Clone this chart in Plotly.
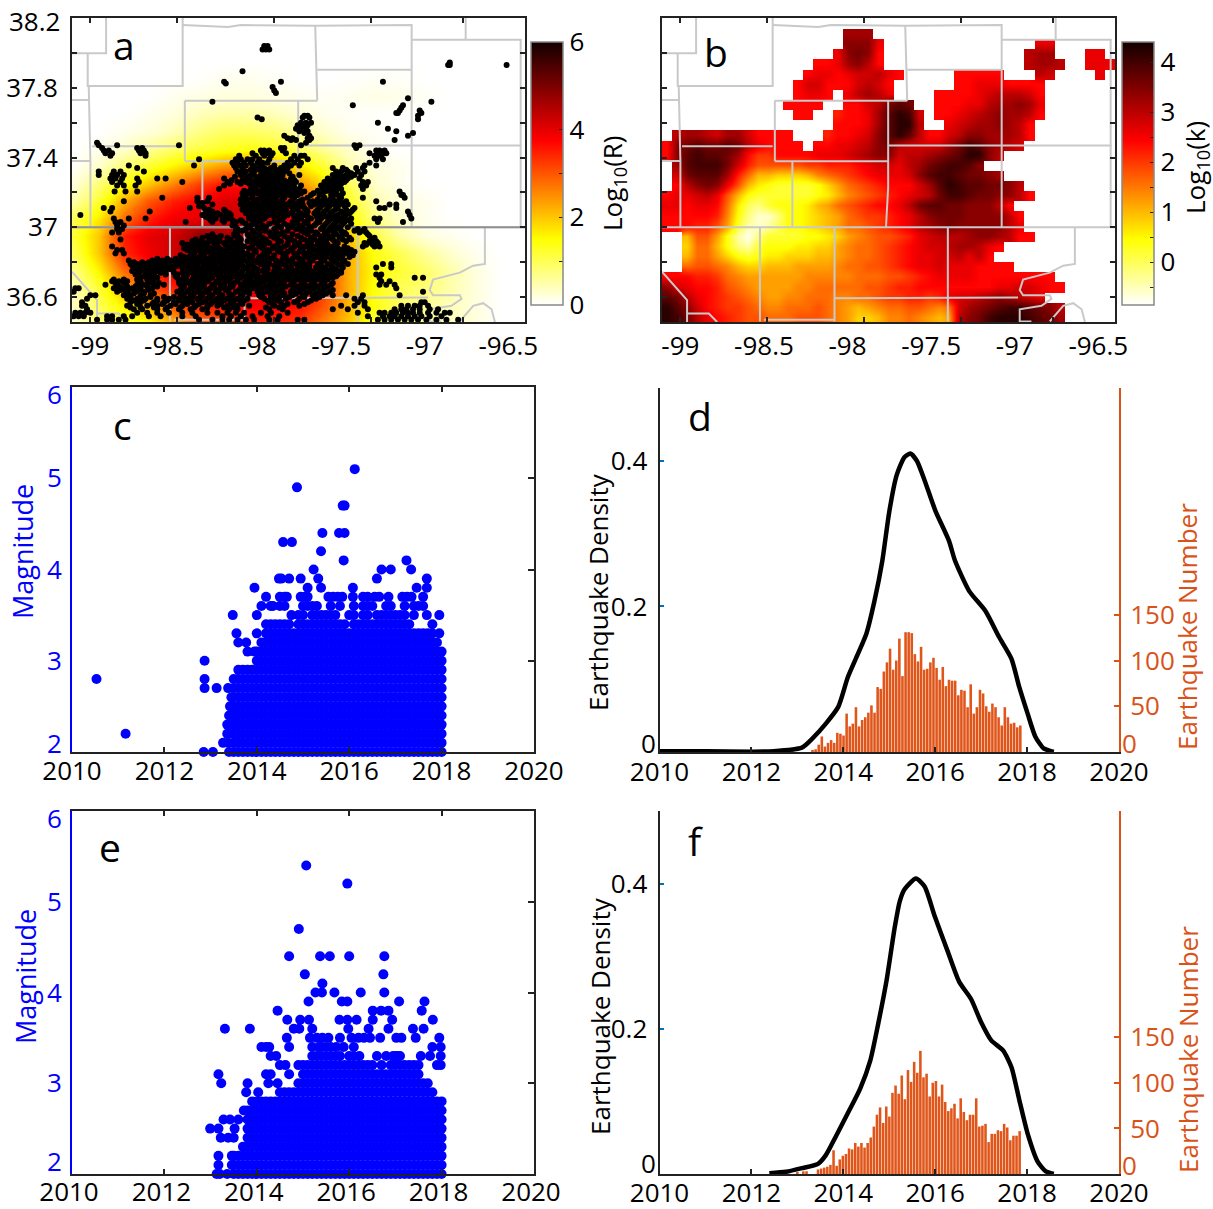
import plotly.graph_objects as go

W, H = 1213, 1209
FONT = "Open Sans"
BLUE = "#0000FF"
ORANGE = "#D95319"
TICKBLUE = "#0072BD"

# ---- panel a: log10(R) field -------------------------------------------------
lon_a = [-99.1,-98.95,-98.8,-98.65,-98.5,-98.35,-98.2,-98.05,-97.9,-97.75,-97.6,-97.45,-97.3,-97.15,-97.0,-96.85,-96.7,-96.55,-96.4]
lat_a = [36.45,36.55,36.65,36.75,36.85,36.95,37.05,37.15,37.25,37.35,37.45,37.55,37.65,37.75,37.85,37.95,38.2]
z_a = [
 [.3,.8,1.2,1.5,2.2,2.8,3,3.4,3.4,3.3,2.6,2,1.2,.8,.6,.4,.2,0,0],
 [.4,1,1.6,2.2,3,3.4,3.6,3.8,3.8,3.6,3,2.1,1.4,.9,.6,.4,.2,0,0],
 [.4,1.2,2.2,3,3.5,3.8,4,4,4.1,3.9,3.2,2.2,1.4,1,.8,.5,.2,0,0],
 [.7,1.6,2.8,3.5,3.9,4.2,4.2,4.2,4.2,4,3.2,2.2,1.5,1.2,.9,.5,.2,0,0],
 [1,2,3.4,3.9,4.2,4.7,4.5,4.3,4.2,4,3.2,2.2,1.4,1,.6,.3,.1,0,0],
 [1.2,2,3.5,4,4.2,4.8,4.6,4.3,4.2,3.9,3,2,1.1,.5,.2,.1,0,0,0],
 [1,1.7,2.8,3.5,3.9,4,4.2,4.2,4.2,3.6,2.6,1.6,.7,.3,.1,0,0,0,0],
 [.5,1.2,2.2,3,3.5,3.8,4.1,4.1,3.9,3.2,2.3,1.3,.5,.2,.1,0,0,0,0],
 [.2,.8,1.4,2,2.6,3.2,3.6,3.6,3.2,2.5,1.8,1,.3,.1,0,0,0,0,0],
 [.05,.3,.8,1.2,1.6,2,2.4,2.5,2.2,1.7,1.2,.5,.2,.1,0,0,0,0,0],
 [0,.1,.3,.6,.9,1.1,1.3,1.4,1.3,1,.6,.3,.1,0,0,0,0,0,0],
 [0,0,.1,.2,.4,.7,.9,.9,.8,.5,.3,.1,.05,0,0,0,0,0,0],
 [0,0,0,.1,.2,.4,.5,.5,.4,.25,.12,.05,.02,.02,0,0,0,0,0],
 [0,0,0,0,.1,.15,.2,.2,.15,.1,.05,.1,.15,.12,.05,0,0,0,0],
 [0,0,0,0,0,.02,.08,.1,.05,0,0,.02,.05,.05,0,0,0,0,0],
 [0]*19,
 [0]*19,
]

# earthquakes of panel a, one row per latitude
quakes_a = [
 (38.04,[-97.96,-97.94]),(38.02,[-97.97,-97.95,-97.93]),
 (37.945,[-96.85]),(37.93,[-96.86,-96.85,-96.51]),(37.895,[-98.09]),
 (37.835,[-98.2,-97.86,-97.25]),(37.825,[-98.19]),(37.805,[-97.91]),(37.785,[-97.9]),(37.77,[-97.89]),
 (37.74,[-97.1]),(37.72,[-98.27,-96.96]),(37.7,[-97.43,-97.13]),(37.685,[-97.14]),(37.67,[-97.15,-97.03]),(37.655,[-97.17,-97.16,-97.02]),
 (37.64,[-97.04,-97.72,-97.7]),(37.63,[-98.0,-97.73,-97.69]),(37.62,[-97.975,-97.04]),
 (37.6,[-97.28,-97.74,-97.71,-97.68]),(37.585,[-97.76,-97.73,-97.7]),(37.565,[-97.77,-97.74,-97.71,-97.22]),(37.55,[-97.75,-97.7,-97.17]),
 (37.54,[-97.72,-97.07]),(37.525,[-97.1,-97.84,-97.69]),(37.51,[-97.82,-97.79,-97.7,-97.68]),(37.5,[-97.8,-97.77,-97.18,-97.69]),
 (37.485,[-97.71,-98.96]),(37.47,[-98.95,-98.84,-98.47,-97.74,-97.42,-97.39]),
 (37.455,[-98.93,-98.72,-98.69,-97.86,-97.84,-97.41]),
 (37.44,[-98.92,-98.89,-98.71,-98.68,-97.98,-97.96,-97.93,-97.85,-97.29,-97.27,-97.24]),
 (37.425,[-98.91,-98.87,-98.7,-98.67,-98.03,-97.97,-97.94,-97.91,-97.83,-97.33,-97.28,-97.25,-97.23]),
 (37.41,[-98.88,-98.67,-98.11,-98.01,-97.96,-97.92,-97.78,-97.74,-97.72,-97.3,-97.27,-97.26]),
 (37.39,[-98.35,-98.13,-98.1,-98.06,-98.03,-97.99,-97.93,-97.8,-97.76,-97.7,-97.29,-97.25]),
 (37.37,[-98.15,-98.12,-98.08,-98.04,-98,-97.97,-97.94,-97.82,-97.78,-97.74,-97.33]),
 (37.355,[-98.77,-98.38,-98.14,-98.1,-98.07,-98.03,-97.98,-97.9,-97.84,-97.8,-97.75,-97.36,-97.29]),
 (37.34,[-98.72,-98.13,-98.09,-98.01,-97.96,-97.92,-97.86,-97.82,-97.55,-97.49,-97.41,-97.37]),
 (37.32,[-98.95,-98.86,-98.82,-98.68,-98.12,-98.07,-98.02,-97.97,-97.93,-97.88,-97.84,-97.53,-97.5,-97.46,-97.4,-97.36]),
 (37.3,[-98.95,-98.87,-98.84,-98.8,-98.1,-98.04,-97.98,-97.94,-97.89,-97.85,-97.75,-97.55,-97.51,-97.47,-97.42,-97.38]),
 (37.28,[-98.88,-98.85,-98.81,-98.72,-98.55,-98.6,-98.2,-98.05,-98,-97.96,-97.9,-97.86,-97.8,-97.58,-97.54,-97.5,-97.46,-97.39]),
 (37.26,[-98.87,-98.82,-98.71,-98.45,-98.18,-98.12,-98.07,-98.02,-97.97,-97.92,-97.87,-97.82,-97.77,-97.6,-97.56,-97.52,-97.48,-97.37,-97.34]),
 (37.24,[-98.84,-98.8,-98.73,-98.2,-98.02,-97.98,-97.94,-97.89,-97.84,-97.79,-97.74,-97.62,-97.57,-97.53,-97.38,-97.35]),
 (37.22,[-98.23,-98.04,-98.01,-97.95,-97.9,-97.85,-97.8,-97.75,-97.61,-97.58,-97.54,-97.5,-97.37]),
 (37.205,[-98.855,-98.79,-98.72,-98.05,-97.99,-97.93,-97.88,-97.82,-97.77,-97.72,-97.6,-97.56,-97.15]),
 (37.185,[-98.07,-98.03,-97.97,-97.92,-97.87,-97.81,-97.76,-97.68,-97.63,-97.56,-97.52,-97.14,-97.13]),
 (37.17,[-98.57,-98.36,-98.29,-98.09,-98.03,-97.98,-97.94,-97.89,-97.84,-97.78,-97.7,-97.6,-97.55,-97.5,-97.12,-97.37]),
 (37.15,[-98.8,-98.36,-98.3,-98.08,-98.02,-97.96,-97.92,-97.86,-97.8,-97.75,-97.67,-97.62,-97.58,-97.53,-97.47,-97.29]),
 (37.13,[-98.34,-98.27,-98.1,-98.05,-98,-97.95,-97.9,-97.83,-97.78,-97.73,-97.66,-97.6,-97.56,-97.51,-97.46,-97.21,-97.17]),
 (37.11,[-98.92,-98.87,-98.405,-98.32,-98.08,-98.03,-97.98,-97.93,-97.87,-97.77,-97.72,-97.63,-97.58,-97.52,-97.42,-97.27,-97.24,-97.17]),
 (37.09,[-98.88,-98.645,-98.31,-98.27,-98.19,-98.06,-98.01,-97.96,-97.91,-97.85,-97.79,-97.7,-97.65,-97.6,-97.55,-97.5,-97.44,-97.1]),
 (37.07,[-99.06,-98.33,-98.28,-98.22,-98.16,-98.04,-97.99,-97.93,-97.88,-97.82,-97.76,-97.72,-97.63,-97.57,-97.52,-97.47,-97.09]),
 (37.05,[-98.86,-98.67,-98.77,-98.29,-98.25,-98.18,-98.05,-98.02,-97.96,-97.85,-97.74,-97.68,-97.62,-97.55,-97.5,-97.44,-97.3,-97.27,-97.08]),
 (37.03,[-98.85,-98.82,-98.43,-98.27,-98.2,-98.13,-98.09,-98,-97.9,-97.79,-97.72,-97.63,-97.58,-97.53,-97.48,-97.28,-97.13]),
 (37.01,[-98.84,-98.8,-98.15,-98.04,-97.97,-97.88,-97.82,-97.75,-97.66,-97.6,-97.55,-97.5]),
 (36.99,[-98.84,-98.81,-98.12,-98.07,-97.99,-97.9,-97.77,-97.7,-97.62,-97.57,-97.53,-97.4,-97.36]),
 (36.97,[-98.87,-98.83,-98.12,-98.02,-97.93,-97.85,-97.72,-97.65,-97.58,-97.54,-97.48,-97.39,-97.35]),
 (36.95,[-98.3,-98.22,-98.13,-98.05,-98,-97.92,-97.84,-97.76,-97.66,-97.61,-97.55,-97.5,-97.33]),
 (36.93,[-98.82,-98.37,-98.28,-98.23,-98.16,-98.1,-98.03,-97.95,-97.88,-97.8,-97.72,-97.66,-97.6,-97.55,-97.49,-97.44,-97.31]),
 (36.91,[-98.45,-98.37,-98.32,-98.26,-98.2,-98.14,-98.01,-97.98,-97.93,-97.82,-97.75,-97.68,-97.62,-97.52,-97.36,-97.32,-97.28]),
 (36.89,[-98.87,-98.4,-98.34,-98.3,-98.24,-98.18,-98.12,-98.08,-97.99,-97.9,-97.84,-97.78,-97.72,-97.67,-97.6,-97.55,-97.48,-97.37,-97.3,-97.27]),
 (36.87,[-98.84,-98.81,-98.42,-98.36,-98.31,-98.26,-98.21,-98.14,-98.02,-97.94,-97.88,-97.8,-97.73,-97.66,-97.61,-97.56,-97.5,-97.44]),
 (36.85,[-98.85,-98.8,-98.38,-98.33,-98.27,-98.22,-98.16,-98.11,-98.06,-97.96,-97.85,-97.78,-97.71,-97.63,-97.58,-97.52,-97.46]),
 (36.83,[-98.44,-98.41,-98.35,-98.28,-98.22,-98.17,-98.12,-98.05,-97.99,-97.94,-97.83,-97.76,-97.7,-97.65,-97.59,-97.52,-97.45]),
 (36.81,[-98.77,-98.63,-98.57,-98.52,-98.46,-98.4,-98.34,-98.29,-98.23,-98.18,-98.13,-98.08,-98.02,-97.96,-97.89,-97.82,-97.73,-97.67,-97.6,-97.53,-97.48]),
 (36.79,[-98.76,-98.72,-98.67,-98.62,-98.57,-98.53,-98.47,-98.41,-98.36,-98.3,-98.25,-98.2,-98.14,-98.1,-98.05,-97.98,-97.93,-97.85,-97.77,-97.72,-97.64,-97.58,-97.52,-97.46,-97.25,-97.2]),
 (36.77,[-98.73,-98.66,-98.6,-98.55,-98.5,-98.45,-98.39,-98.33,-98.28,-98.22,-98.17,-98.12,-98.07,-98.02,-97.95,-97.88,-97.8,-97.72,-97.65,-97.6,-97.55,-97.49,-97.29,-97.2]),
 (36.75,[-98.75,-98.7,-98.65,-98.6,-98.55,-98.43,-98.37,-98.31,-98.26,-98.2,-98.15,-98.09,-98.03,-97.97,-97.9,-97.84,-97.78,-97.74,-97.68,-97.62,-97.57,-97.5]),
 (36.73,[-98.73,-98.67,-98.62,-98.55,-98.48,-98.42,-98.36,-98.3,-98.24,-98.18,-98.12,-98.06,-98,-97.92,-97.86,-97.8,-97.75,-97.7,-97.64,-97.58,-97.52,-97.29,-97.26]),
 (36.71,[-98.7,-98.65,-98.6,-98.48,-98.43,-98.37,-98.32,-98.27,-98.21,-98.16,-98.1,-98.04,-97.98,-97.94,-97.88,-97.82,-97.76,-97.7,-97.65,-97.6,-97.55,-97.27,-97.06,-97.01]),
 (36.69,[-98.87,-98.83,-98.78,-98.7,-98.64,-98.47,-98.42,-98.35,-98.3,-98.24,-98.18,-98.12,-98.07,-98.01,-97.96,-97.9,-97.84,-97.78,-97.72,-97.66,-97.6,-97.26,-97.21]),
 (36.67,[-98.91,-98.84,-98.72,-98.68,-98.62,-98.56,-98.46,-98.4,-98.34,-98.27,-98.22,-98.16,-98.1,-98.05,-98,-97.93,-97.87,-97.8,-97.74,-97.68,-97.62,-97.56,-97.27,-97.23,-97.18]),
 (36.65,[-99.09,-99.07,-98.86,-98.81,-98.75,-98.7,-98.63,-98.45,-98.39,-98.34,-98.28,-98.22,-98.17,-98.09,-98.03,-97.97,-97.91,-97.85,-97.78,-97.72,-97.66,-97.6,-97.17]),
 (36.63,[-99.1,-98.84,-98.79,-98.73,-98.68,-98.48,-98.42,-98.36,-98.31,-98.25,-98.13,-98.07,-98,-97.94,-97.88,-97.8,-97.75,-97.69,-97.63,-97.57,-97.01]),
 (36.61,[-99.0,-98.97,-98.8,-98.76,-98.7,-98.64,-98.46,-98.4,-98.33,-98.27,-98.21,-98.15,-98.09,-97.99,-97.92,-97.85,-97.79,-97.73,-97.67,-97.61,-97.55,-97.47,-97.37,-97.15]),
 (36.59,[-99.02,-98.78,-98.72,-98.67,-98.6,-98.53,-98.47,-98.42,-98.36,-98.3,-98.24,-98.18,-98.12,-98.06,-97.96,-97.9,-97.83,-97.75,-97.65,-97.42,-97.38]),
 (36.57,[-99.05,-98.76,-98.7,-98.62,-98.56,-98.5,-98.44,-98.39,-98.33,-98.27,-98.22,-98.16,-98.1,-97.93,-97.86,-97.78,-97.7,-97.4,-97.36,-97.02,-97.0]),
 (36.55,[-99.05,-99.03,-98.78,-98.66,-98.6,-98.52,-98.45,-98.37,-98.3,-98.24,-98.18,-98.12,-98.05,-97.9,-97.84,-97.75,-97.5,-97.42,-97.36,-97.14,-97.1,-97.06,-97.03,-96.98]),
 (36.53,[-99.02,-98.74,-98.69,-98.6,-98.55,-98.47,-98.4,-98.33,-98.17,-98.12,-97.93,-97.85,-97.55,-97.46,-97.34,-97.18,-97.14,-97.11,-97.07,-97.03,-96.97,-96.92]),
 (36.51,[-99.09,-99.06,-99.03,-99.0,-98.72,-98.66,-98.6,-98.53,-98.45,-98.39,-98.3,-98.24,-98.18,-98.13,-98.08,-97.98,-97.92,-97.82,-97.4,-97.27,-97.24,-97.2,-97.17,-97.13,-97.1,-97.07,-97.03,-96.98,-96.93,-96.88,-96.85]),
 (36.49,[-99.1,-99.07,-99.04,-98.9,-98.87,-98.8,-98.75,-98.65,-98.58,-98.45,-98.37,-98.21,-98.16,-98.1,-98.03,-97.94,-97.87,-97.34,-97.25,-97.21,-97.18,-97.14,-97.1,-97.06,-97.02,-96.97,-96.9]),
 (36.47,[-98.96,-98.9,-98.87,-98.83,-98.79,-98.35,-98.27,-98.21,-98.17,-98.12,-98.07,-98.02,-97.93,-97.88,-97.76,-97.72,-97.28,-97.24,-97.2,-97.16,-97.12,-97.08,-97.04,-96.99,-96.93,-96.87,-96.8]),
]
# more events packed into the dense core of panel a
quakes_a_core = [
 (37.33,[-98.09,-98.04,-97.99,-97.94,-97.89,-97.83,-97.47]),
 (37.31,[-98.085,-98.03,-97.955,-97.91,-97.865,-97.81,-97.52,-97.44]),
 (37.29,[-98.135,-98.07,-98.01,-97.955,-97.92,-97.875,-97.79,-97.535,-97.49,-97.44]),
 (37.27,[-98.155,-98.09,-98.04,-97.985,-97.945,-97.885,-97.84,-97.78,-97.565,-97.51,-97.47]),
 (37.25,[-98.165,-98.1,-98.05,-98.0,-97.95,-97.905,-97.855,-97.8,-97.585,-97.545,-97.5]),
 (37.23,[-98.025,-97.97,-97.925,-97.875,-97.825,-97.78,-97.6,-97.555,-97.51]),
 (37.21,[-98.08,-98.02,-97.96,-97.91,-97.85,-97.795,-97.745,-97.64,-97.585,-97.53]),
 (37.195,[-98.09,-98.05,-98.0,-97.95,-97.895,-97.84,-97.785,-97.74,-97.665,-97.61,-97.54,-97.49]),
 (37.16,[-98.1,-98.06,-98.0,-97.945,-97.905,-97.85,-97.79,-97.73,-97.64,-97.605,-97.565,-97.51]),
 (37.14,[-98.33,-98.09,-98.03,-97.97,-97.93,-97.88,-97.81,-97.76,-97.69,-97.64,-97.59,-97.54,-97.49]),
 (37.12,[-98.35,-98.07,-98.015,-97.96,-97.915,-97.85,-97.8,-97.745,-97.68,-97.62,-97.57,-97.53,-97.48]),
 (37.1,[-98.29,-98.2,-98.09,-98.045,-97.995,-97.945,-97.89,-97.83,-97.76,-97.71,-97.64,-97.585,-97.535,-97.47,-97.43]),
 (37.08,[-98.3,-98.24,-98.17,-98.07,-98.02,-97.975,-97.92,-97.865,-97.8,-97.74,-97.66,-97.61,-97.56,-97.49,-97.45]),
 (37.06,[-98.31,-98.26,-98.19,-98.05,-98.005,-97.95,-97.9,-97.84,-97.78,-97.7,-97.645,-97.59,-97.535,-97.48]),
 (37.04,[-98.28,-98.21,-98.15,-98.1,-98.03,-97.98,-97.87,-97.76,-97.7,-97.64,-97.57,-97.51,-97.46]),
 (37.02,[-98.14,-98.07,-98.02,-97.93,-97.84,-97.78,-97.7,-97.65,-97.59,-97.54,-97.49,-97.44]),
 (37.0,[-98.13,-98.05,-98.0,-97.95,-97.86,-97.8,-97.73,-97.68,-97.61,-97.56,-97.52,-97.46]),
 (36.98,[-98.13,-98.09,-98.03,-97.96,-97.89,-97.82,-97.74,-97.68,-97.6,-97.55,-97.5,-97.42,-97.37]),
 (36.96,[-98.27,-98.14,-98.06,-97.99,-97.9,-97.87,-97.79,-97.7,-97.64,-97.59,-97.53,-97.47,-97.34]),
 (36.94,[-98.33,-98.25,-98.18,-98.11,-98.02,-97.97,-97.9,-97.82,-97.74,-97.68,-97.62,-97.57,-97.51,-97.45,-97.3]),
 (36.92,[-98.39,-98.34,-98.29,-98.23,-98.18,-98.12,-98.06,-98,-97.95,-97.86,-97.78,-97.7,-97.64,-97.59,-97.54,-97.47,-97.33,-97.29]),
 (36.9,[-98.42,-98.36,-98.31,-98.25,-98.19,-98.15,-98.1,-98.03,-97.96,-97.88,-97.82,-97.76,-97.7,-97.64,-97.58,-97.53,-97.35,-97.31]),
 (36.88,[-98.44,-98.38,-98.33,-98.28,-98.23,-98.17,-98.11,-98.05,-97.97,-97.91,-97.86,-97.79,-97.74,-97.69,-97.63,-97.57,-97.52,-97.46]),
 (36.86,[-98.4,-98.34,-98.3,-98.24,-98.19,-98.13,-98.09,-98.01,-97.93,-97.87,-97.82,-97.75,-97.69,-97.64,-97.59,-97.54,-97.48,-97.42]),
 (36.84,[-98.46,-98.39,-98.32,-98.25,-98.2,-98.15,-98.08,-98.03,-97.97,-97.9,-97.84,-97.77,-97.72,-97.67,-97.61,-97.55,-97.49,-97.43]),
 (36.82,[-98.6,-98.54,-98.49,-98.43,-98.37,-98.31,-98.26,-98.2,-98.15,-98.1,-98.04,-97.99,-97.92,-97.85,-97.79,-97.75,-97.69,-97.62,-97.56,-97.5]),
 (36.8,[-98.74,-98.69,-98.65,-98.6,-98.55,-98.49,-98.44,-98.38,-98.33,-98.27,-98.22,-98.16,-98.11,-98.06,-98.0,-97.95,-97.87,-97.8,-97.74,-97.69,-97.62,-97.55,-97.49]),
 (36.78,[-98.75,-98.7,-98.64,-98.59,-98.52,-98.48,-98.42,-98.37,-98.31,-98.26,-98.19,-98.15,-98.09,-98.03,-97.96,-97.9,-97.83,-97.75,-97.69,-97.62,-97.56,-97.5]),
 (36.76,[-98.72,-98.68,-98.62,-98.57,-98.52,-98.4,-98.35,-98.29,-98.24,-98.18,-98.13,-98.06,-98.0,-97.94,-97.87,-97.81,-97.76,-97.7,-97.63,-97.59,-97.53]),
 (36.74,[-98.71,-98.65,-98.58,-98.5,-98.45,-98.39,-98.33,-98.27,-98.22,-98.16,-98.1,-98.03,-97.95,-97.89,-97.83,-97.77,-97.72,-97.66,-97.6,-97.55,-97.5]),
 (36.72,[-98.68,-98.63,-98.49,-98.44,-98.38,-98.34,-98.28,-98.23,-98.19,-98.14,-98.08,-98.01,-97.96,-97.9,-97.84,-97.78,-97.73,-97.67,-97.62,-97.57,-97.53]),
 (36.7,[-98.86,-98.8,-98.72,-98.66,-98.62,-98.45,-98.39,-98.33,-98.29,-98.23,-98.17,-98.12,-98.05,-98.0,-97.93,-97.87,-97.81,-97.75,-97.69,-97.63,-97.58]),
 (36.68,[-98.85,-98.8,-98.7,-98.65,-98.59,-98.47,-98.43,-98.37,-98.32,-98.25,-98.2,-98.14,-98.08,-98.03,-97.98,-97.91,-97.85,-97.79,-97.72,-97.66,-97.6,-97.55]),
 (36.66,[-98.83,-98.78,-98.73,-98.66,-98.6,-98.44,-98.37,-98.32,-98.26,-98.2,-98.15,-98.07,-98.01,-97.95,-97.89,-97.83,-97.76,-97.7,-97.64,-97.58]),
 (36.64,[-98.82,-98.77,-98.71,-98.65,-98.46,-98.41,-98.35,-98.3,-98.24,-98.19,-98.11,-98.05,-97.99,-97.93,-97.86,-97.79,-97.74,-97.68,-97.61,-97.55]),
 (36.62,[-98.78,-98.74,-98.68,-98.62,-98.44,-98.38,-98.34,-98.29,-98.23,-98.17,-98.1,-98.05,-97.97,-97.9,-97.84,-97.77,-97.71,-97.65,-97.59]),
 (36.6,[-98.76,-98.7,-98.64,-98.56,-98.5,-98.44,-98.39,-98.34,-98.28,-98.22,-98.16,-98.1,-97.98,-97.92,-97.87,-97.81,-97.72,-97.63]),
 (36.58,[-98.74,-98.68,-98.6,-98.54,-98.47,-98.41,-98.35,-98.31,-98.25,-98.2,-98.14,-98.08,-97.94,-97.88,-97.76,-97.68]),
 (36.56,[-98.72,-98.63,-98.57,-98.49,-98.42,-98.35,-98.28,-98.22,-98.15,-98.09,-97.91,-97.82,-97.72]),
 (36.54,[-98.76,-98.7,-98.62,-98.54,-98.46,-98.38,-98.3,-98.2,-98.14,-97.95,-97.87]),
]

# ---- panel b: log10(k) field, rows from north to south ------------------------
# each row: (first column, level letters); '.' means no data
LEVELS = "abcdefghijklmnopqrstuvwxyz"   # a = -0.8 ... z = 4.2, steps of 0.2
N_COL_B = 45
rows_b = [
 (0,""),
 (18,"uuu"),
 (18,"vvvr"),
 (17,"rvwvq"),
 (15,"qqruvtq"),
 (14,"qrrqrsstrq"),
 (13,"qssqqqstsq"),
 (13,"qrrq.rtutr"),
 (12,"qqqq..qqstwxw..qqqrrtuuvur"),
 (13,"qq..pqqruxzys.qqrstuvuutq"),
 (17,"qqqruxzzt..rstuuvutq"),
 (1,"tuutsuusqqqq...pqqrsvxzxtqqstvvuuutq"),
 (0,"qvwxwwxwtrqqqq.qqrrstvwtssssuwyxvuts"),
 (0,"qvxyxxwuqooqqqqrrrstuvvsttuvwxzzvt"),
 (1,"uxyyywspnnnnnoopppqrssrtuwxyyxv"),
 (1,"swxxxupmjjiiijlmnopqrrrsvxyyxwwvu"),
 (1,"qtvwvrnjhgffffgikmnopqqqsuxzyxxwwvt"),
 (0,"qrrstrnjgffffffghjlmnopqrstwyyxwwvvtq"),
 (0,"rrqrrqmhedfggghjkmnopqqrtwxxwwvvvtq"),
 (0,"qqqqqplgdbbdgghijkmnoopqrtvwwwvvvvtq"),
 (0,"qqqppnkfcbcegghijkmmnopqrtuvwvvvvvtr"),
 (2,"jnnkgcadffffgghiklmnnoprstttuvvutqq"),
 (2,"immjgdcfggghhiiklmmnopqrsstuutrq"),
 (2,"jmmkigfghhiiijjklmmnopqrrsstrtq"),
 (2,"mnnmljiijjjkkkklmmnnopqrrsrrrqqqq"),
 (0,"qqqppomlkkkkkklllllmmmnnopqrrrrqqqqqqqq"),
 (0,"vsrqqpnmlkkkkllmmmmmnnoppqqqqqqqqrrssrqq"),
 (0,"xwtrqponmlkkllmmmllmmnooppoprsstuvutsr"),
 (0,"zxvsqpoonmllmmmnmlkjklmmnnmlmsuvwxyyxwvt"),
 (0,"zywtrqponnmmmnnnmlkiijllmlkjktvwyzzzyxwu"),
]
# further patches in the north-east of panel b: (row, first column, letters)
patches_b = [(2,37,"rr"),(3,36,"tuu"),(3,42,"rr"),(4,36,"tuut"),(4,42,"rrr"),(5,29,"qqqqq"),(5,37,"ts"),(5,43,"r"),
             (6,29,"qqrrrqqqq"),(7,27,"qqqqrstttsq")]

# ---- county outlines shared by maps a and b -----------------------------------
county_lon = [
 [-98.906,-98.906,-99.11],[-99.016,-99.016,-98.448,-98.448],[-98.448,-98.176,-98.1,-97.655,-97.078,-97.078],
 [-98.435,-98.435],[-97.655,-97.643],[-98.435,-97.643],[-99.11,-99.01],[-99.01,-99.0,-99.0],[-97.643,-97.078],
 [-97.078,-96.42],[-96.755,-96.755],[-97.757,-97.757,-97.77],[-98.99,-98.448],[-97.757,-96.42],
 [-98.435,-97.757],[-98.33,-98.33],[-99.11,-99.0],[-99.11,-96.4],[-96.426,-96.426],
 [-98.524,-98.524],[-98.078,-98.078],[-97.4,-97.4],[-98.078,-96.98],
 [-96.64,-96.64,-96.71,-96.79,-96.95,-96.97,-96.95,-96.79,-96.78,-96.84,-96.97,-96.97,-96.9],
 [-99.11,-98.96,-98.96],[-98.96,-98.83,-98.78],[-98.5,-98.08],[-96.79,-96.71,-96.65,-96.6,-96.58],
]
county_lat = [
 [38.2,37.998,37.998],[37.998,37.81,37.81,38.2],[38.16,38.149,38.16,38.155,38.16,37.0],
 [37.726,37.379],[38.155,37.726],[37.726,37.726],[37.73,37.73],[37.81,37.38,37.0],[37.903,37.903],
 [38.076,38.076],[38.2,38.076],[37.726,37.23,37.0],[37.465,37.465],[37.469,37.469],
 [37.379,37.379],[37.379,37.0],[37.38,37.38],[37.0,37.0],[38.076,37.0],
 [37.0,36.46],[37.0,36.46],[37.0,36.46],[36.593,36.598],
 [37.0,36.79,36.78,36.74,36.70,36.64,36.61,36.61,36.59,36.55,36.53,36.46,36.46],
 [36.745,36.583,36.45],[36.506,36.506,36.457],[36.47,36.47],[36.46,36.55,36.565,36.53,36.457],
]

# ---- panel c ------------------------------------------------------------------
years_c = [2013.5,2013.6,2013.7,2013.8,2013.9,2014.0,2014.1,2014.2,2014.3,2014.4,2014.5,2014.6,2014.7,2014.8,2014.9,
           2015.0,2015.1,2015.2,2015.3,2015.4,2015.5,2015.6,2015.7,2015.8,2015.9,2016.0,2016.1,2016.2,2016.3,2016.4,2016.5,
           2016.6,2016.7,2016.8,2016.9,2017.0,2017.1,2017.2,2017.3,2017.4,2017.5,2017.6,2017.7,2017.8,2017.9,2018.0]
tops_c = [2.8,2.9,2.9,2.9,2.9,3.1,3.2,3.4,3.4,3.4,3.4,3.4,3.4,3.3,3.4,3.4,3.4,3.5,3.4,3.5,3.5,3.4,3.4,3.4,3.4,3.3,3.5,3.4,3.5,
          3.5,3.4,3.5,3.5,3.4,3.4,3.4,3.4,3.5,3.4,3.3,3.3,3.3,3.3,3.3,3.2,3.1]
extra_x_c = [2010.53,2011.16,2012.87,2012.87,2012.87,2012.85,2013.05,2013.13,2013.27,2013.38,2013.36,2013.36,2013.38,2013.42,2013.42,
             2013.48,2013.56,2013.6,2013.77,2013.8,2013.95,2013.95,2014.0,2014.0,2014.1,2014.2,2014.3,
             2014.48,2014.53,2014.7,2014.57,2014.76,2014.87,2014.95,2015.1,2015.23,2015.33,2015.39,2015.39,2015.42,
             2015.78,2015.9,2015.86,2015.9,2015.88,2016.12,2016.08,2016.6,2016.7,2016.9,2017.24,2017.34,2017.46,2017.68,2017.68,
             2017.6,2017.68,2017.95,2017.8,2017.95,
             2014.5,2014.6,2014.65,2014.95,2015.05,2015.1,2015.55,2015.65,2015.75,2015.85,2016.08,2016.3,2016.4,2016.55,2016.65,2016.85,2017.15,2017.25,2017.35,
             2014.35,2014.5,2014.6,2015.0,2015.1,2015.2,2015.3,2015.6,2015.8,2016.1,2016.3,2016.4,2016.5,2016.8,2016.9,2017.2,2017.4,2017.5,2017.6,
             2014.75,2014.9,2015.0,2015.3,2015.6,2015.7,2016.0,2016.8,2016.9,2017.0,2017.1,2017.4,2013.4,2013.4,2013.4,2013.45,2013.45]
extra_y_c = [2.8,2.2,3.0,2.8,2.7,2.0,2.0,2.7,2.1,2.1,2.3,2.2,2.7,2.5,2.4,
             3.5,3.3,3.2,3.2,3.1,3.1,3.8,3.5,3.3,3.6,3.7,3.6,
             3.9,3.9,3.9,4.3,4.3,4.9,3.9,3.8,4.0,3.9,3.8,4.2,4.4,
             4.4,4.4,4.7,4.7,4.1,5.1,3.8,3.9,4.0,4.0,4.1,4.0,3.8,3.9,3.8,
             3.7,3.5,3.5,3.4,3.3,
             3.7,3.7,3.7,3.7,3.7,3.7,3.7,3.7,3.7,3.7,3.7,3.7,3.7,3.7,3.7,3.7,3.7,3.7,3.7,
             3.6,3.6,3.6,3.6,3.6,3.6,3.6,3.6,3.6,3.6,3.6,3.6,3.6,3.6,3.6,3.6,3.6,3.6,3.6,
             3.5,3.5,3.5,3.5,3.5,3.5,3.5,3.5,3.5,3.5,3.5,3.5,2.0,2.2,2.4,2.6,2.3]

# ---- panel e ------------------------------------------------------------------
years_e = years_c
tops_e = [2.2,2.2,2.3,2.7,2.8,2.8,2.8,2.8,2.8,2.8,2.9,2.9,2.9,2.9,3.0,3.2,3.2,3.3,3.3,3.4,3.3,3.3,3.3,3.3,3.2,3.3,3.3,3.2,3.2,3.2,
          3.2,3.1,3.2,3.1,3.2,3.3,3.3,3.2,3.2,3.2,3.2,3.0,3.0,2.9,2.8,2.8]
extra_x_e = [2015.07,2015.96,2014.91,2014.7,2015.37,2015.58,2016.0,2016.76,2015.04,2016.74,2015.42,2015.27,2015.41,2015.68,2016.25,2016.76,
             2015.12,2015.84,2015.96,2017.08,2017.63,2017.57,2014.45,2016.51,2016.69,2016.85,2014.66,2014.94,2015.13,2015.79,2015.96,2016.16,
             2016.51,2016.93,2017.81,2013.31,2013.85,2014.8,2014.92,2015.2,2015.98,2016.42,2016.85,2017.38,2017.61,2014.65,2016.67,2017.44,2017.95,
             2017.02,2017.13,2015.15,2015.3,2015.42,2015.55,2015.8,2016.05,2016.2,2016.32,2016.45,2014.1,2014.2,2014.27,2014.7,2017.8,2017.98,
             2017.98,2017.55,2013.17,2013.23,2013.8,2013.77,2014.03,2014.2,2014.3,2014.25,2014.3,2014.42,2014.62,2014.5,2014.7,2014.45,2014.9,
             2012.99,2013.17,2013.22,2013.28,2013.42,2013.38,2013.5,2013.52,2013.6,2013.72,2013.17,2013.17,2013.13,2013.2,2013.36,2013.46,2013.46,
             2015.2,2015.35,2015.5,2015.6,2015.72,2015.88,2016.1,2016.22,2016.6,2016.8,2016.95,2017.05,2017.75,2017.9,2017.98]
extra_y_e = [5.4,5.2,4.7,4.4,4.4,4.4,4.4,4.4,4.2,4.2,4.1,4.0,4.0,4.0,4.0,4.0,
             3.9,3.9,3.9,3.9,3.9,3.8,3.8,3.8,3.8,3.8,3.7,3.7,3.7,3.7,3.7,3.7,
             3.7,3.7,3.7,3.6,3.6,3.6,3.6,3.6,3.6,3.6,3.6,3.6,3.6,3.5,3.5,3.5,3.5,
             3.5,3.5,3.5,3.5,3.5,3.5,3.5,3.5,3.5,3.5,3.5,3.4,3.4,3.4,3.4,3.4,3.4,
             3.3,3.3,3.1,3.0,3.0,2.9,2.9,3.1,3.1,3.0,3.3,3.3,3.2,3.2,3.1,3.0,3.2,
             2.5,2.5,2.4,2.6,2.6,2.4,2.4,2.5,2.6,2.7,2.2,2.1,2.0,2.0,2.0,2.2,2.1,
             3.4,3.4,3.4,3.4,3.4,3.4,3.4,3.3,3.3,3.3,3.3,3.3,3.3,3.2,3.2]

# ---- panel d ------------------------------------------------------------------
curve_x_d = [2010,2011,2012,2012.48,2013.1,2013.32,2013.62,2013.89,2014.1,2014.32,2014.5,2014.68,2014.85,2015.0,2015.16,2015.33,2015.46,
             2015.6,2015.77,2016.0,2016.3,2016.43,2016.74,2017.09,2017.39,2017.66,2017.83,2018.01,2018.18,2018.36,2018.58]
curve_y_d = [0.001,0.001,0.0005,0.001,0.006,0.018,0.039,0.062,0.103,0.135,0.162,0.208,0.263,0.33,0.38,0.405,0.41,
             0.40,0.373,0.332,0.29,0.263,0.221,0.194,0.158,0.128,0.089,0.053,0.021,0.005,0]
bin_start_d, bin_width_d = 2013.33, 0.0675
counts_d = [2,3,8,17,6,10,13,10,21,20,18,42,28,31,49,28,35,38,43,51,43,71,69,88,98,113,90,100,124,83,131,131,130,107,99,115,90,91,98,103,92,79,93,72,79,78,78,62,68,67,49,74,42,49,68,64,50,44,53,49,38,29,49,38,31,32,27,29]

# ---- panel f ------------------------------------------------------------------
curve_x_f = [2012.39,2012.75,2013.1,2013.45,2013.62,2013.84,2014.1,2014.37,2014.59,2014.76,2014.94,2015.12,2015.23,2015.33,2015.58,
             2015.77,2015.99,2016.27,2016.52,2016.78,2017.0,2017.22,2017.48,2017.66,2017.83,2018.01,2018.23,2018.4,2018.58]
curve_y_f = [0.001,0.003,0.008,0.014,0.026,0.052,0.084,0.118,0.157,0.207,0.266,0.34,0.376,0.392,0.407,
             0.396,0.355,0.307,0.265,0.241,0.209,0.184,0.170,0.147,0.102,0.056,0.017,0.004,0]
bin_start_f, bin_width_f = 2013.45, 0.0675
counts_f = [5,6,7,8,10,26,9,16,20,22,28,27,34,30,34,29,34,40,52,65,73,56,74,63,89,97,88,108,82,114,101,123,111,135,106,110,85,100,102,85,98,79,69,72,77,61,83,68,59,65,65,83,52,53,55,35,44,44,48,47,55,51,37,42,42,47]
early_x_f = [2013.0,2013.13,2013.2]
early_counts_f = [2,3,3]
early_x_d = [2012.9]
early_counts_d = [3]

year_ticks = [2010,2012,2014,2016,2018,2020]
lon_labels = [-99,-98.5,-98,-97.5,-97,-96.5]
lon_label_text = ["-99","-98.5","-98","-97.5","-97","-96.5"]
lon_marks = [-99,-98.48,-97.9,-97.32,-96.77]
lat_labels = [37.8,37.4,37,36.6]
lat_marks = [38,37.6,37.2,36.8]

# ------------------------------------------------------------------------------
HOT = [[0,"#ffffff"],[0.25,"#ffff00"],[0.625,"#ff0000"],[1,"#120000"]]
FS = 26

def dx(a,b): return [a/W,b/W]
def dy(a,b): return [1-b/H,1-a/H]
tf = dict(family=FONT,size=FS,color="black")

fig = go.Figure()
layout = dict(width=W,height=H,margin=dict(l=0,r=0,t=0,b=0,autoexpand=False),autosize=False,paper_bgcolor="white",plot_bgcolor="white",
              showlegend=False,bargap=0.12,font=dict(family=FONT,size=FS,color="black"))

def map_axes(xn,yn,xa,ya,x0,x1,show_lat,standoff):
    layout[xn]=dict(domain=dx(x0,x1),range=[-99.11,-96.40],tickmode="array",tickvals=lon_labels,ticktext=lon_label_text,anchor=ya,
        ticks="",showline=True,linecolor="#222",linewidth=2,mirror="allticks",showgrid=False,zeroline=False,tickfont=tf,
        ticklabelstandoff=standoff,minor=dict(tickmode="array",tickvals=lon_marks,ticks="inside",ticklen=5,tickwidth=1.5,tickcolor="#222",showgrid=False))
    layout[yn]=dict(domain=dy(18,322),range=[36.457,38.2],tickmode="array",tickvals=lat_labels,anchor=xa,
        ticktext=[str(v) for v in lat_labels],showticklabels=show_lat,
        ticks="inside",ticklen=5,tickwidth=1.5,tickcolor="#222",showline=True,linecolor="#222",linewidth=2,mirror="allticks",
        showgrid=False,zeroline=False,tickfont=tf,ticklabelstandoff=7,
        minor=dict(tickmode="array",tickvals=lat_marks,ticks="inside",ticklen=5,tickwidth=1.5,tickcolor="#222",showgrid=False))

map_axes("xaxis","yaxis","x","y",72,525,True,0)
map_axes("xaxis2","yaxis2","x2","y2",662,1115,False,0)

# panel a
fig.add_trace(go.Heatmap(x=lon_a,y=lat_a,z=z_a,zmin=0,zmax=6,colorscale=HOT,zsmooth="best",xaxis="x",yaxis="y",
    colorbar=dict(x=531/W,xanchor="left",y=1-42/H,yanchor="top",len=263,lenmode="pixels",thickness=32,thicknessmode="pixels",
        tickmode="linear",tick0=0,dtick=1,ticklabelstep=2,ticks="inside",ticklen=4,tickcolor="#222",
        outlinecolor="#888",outlinewidth=1.5,tickfont=tf,xpad=0,ypad=0)))
all_a = quakes_a + quakes_a_core
qa_lon=[v for lat,row in all_a for v in row]
qa_lat=[lat for lat,row in all_a for v in row]
def county_traces(xa,ya):
    for lo,la in zip(county_lon,county_lat):
        fig.add_trace(go.Scatter(x=lo,y=la,mode="lines",line=dict(color="#c9c9c9",width=2),xaxis=xa,yaxis=ya,hoverinfo="skip"))
county_traces("x","y")
fig.add_trace(go.Scatter(x=[-99.11,-96.4],y=[37,37],mode="lines",line=dict(color="#909090",width=2),xaxis="x",yaxis="y"))
fig.add_trace(go.Scatter(x=qa_lon,y=qa_lat,mode="markers",marker=dict(color="black",size=6),xaxis="x",yaxis="y"))

# panel b
z_b=[]
for start,s in rows_b:
    row=[None]*N_COL_B
    for i,ch in enumerate(s):
        if ch!=".": row[start+i]=round(-0.8+0.2*LEVELS.index(ch),1)
    z_b.append(row)
for r,start,s in patches_b:
    for i,ch in enumerate(s):
        z_b[r][start+i]=round(-0.8+0.2*LEVELS.index(ch),1)
z_b=z_b[::-1]
lon_b=[-99.11+(i+.5)*2.71/N_COL_B for i in range(N_COL_B)]
lat_b=[36.457+(j+.5)*1.743/30 for j in range(30)]
fig.add_trace(go.Heatmap(x=lon_b,y=lat_b,z=z_b,zmin=-0.86,zmax=4.4,colorscale=HOT,zsmooth="best",xaxis="x2",yaxis="y2",
    colorbar=dict(x=1122/W,xanchor="left",y=1-42/H,yanchor="top",len=263,lenmode="pixels",thickness=32,thicknessmode="pixels",
        tickmode="linear",tick0=0,dtick=0.5,ticklabelstep=2,ticks="inside",ticklen=4,tickcolor="#222",
        outlinecolor="#888",outlinewidth=1.5,tickfont=tf,xpad=0,ypad=0)))
county_traces("x2","y2")

# magnitude panels
def mag_panel(n,right,top,bottom,years,tops,ex,ey,shift,standoff):
    xn="xaxis%d"%n; yn="yaxis%d"%n; rn="yaxis%d"%right
    layout[xn]=dict(domain=dx(72,534),range=[2010,2020],tickmode="array",tickvals=year_ticks,ticks="inside",ticklen=5,tickwidth=2,tickcolor="#222",
        showline=True,linecolor="#222",linewidth=2,mirror="ticks",showgrid=False,zeroline=False,tickfont=tf,ticklabelstandoff=standoff,ticklabelshift=shift,anchor="y%d"%n)
    layout[yn]=dict(domain=dy(top,bottom),range=[2,6],tickmode="array",tickvals=[3,4,5],ticks="",showline=True,linecolor=BLUE,linewidth=2,
        showgrid=False,zeroline=False,tickfont=dict(family=FONT,size=FS,color=BLUE),ticklabelstandoff=3,anchor="x%d"%n)
    layout[rn]=dict(domain=dy(top,bottom),range=[2,6],overlaying="y%d"%n,side="right",anchor="x%d"%n,tickmode="array",tickvals=[3,4,5],
        ticks="inside",ticklen=6,tickwidth=2,tickcolor="#222",showticklabels=False,showline=True,linecolor="#222",linewidth=2,showgrid=False,zeroline=False)
    xs=[];ys=[]
    for yr,t in zip(years,tops):
        for k in range(int(round((t-2)*10))+1):
            xs.append(yr);ys.append(2+k/10)
    fig.add_trace(go.Scatter(x=xs+ex,y=ys+ey,mode="markers",marker=dict(color=BLUE,size=10),cliponaxis=False,xaxis="x%d"%n,yaxis="y%d"%n))
    fig.add_trace(go.Scatter(x=[None],y=[None],xaxis="x%d"%n,yaxis="y%d"%right))

mag_panel(3,7,387,752,years_c,tops_c,extra_x_c,extra_y_c,0,-5)
mag_panel(5,9,811,1174,years_e,tops_e,extra_x_e,extra_y_e,-3,-6)

# density panels
def dens_panel(n,over,top,bottom,cx,cy,start,width,counts,ex,ec,standoff):
    xn="xaxis%d"%n; yn="yaxis%d"%n; on="yaxis%d"%over
    layout[xn]=dict(domain=dx(659.5,1119),range=[2010,2020],tickmode="array",tickvals=year_ticks,ticks="inside",ticklen=5,tickwidth=1.5,tickcolor="#222",
        showline=True,linecolor="#222",linewidth=2,showgrid=False,zeroline=False,tickfont=tf,ticklabelstandoff=standoff,anchor="y%d"%n)
    layout[yn]=dict(domain=dy(top,bottom),range=[0,398],side="right",anchor="x%d"%n,tickmode="array",tickvals=[50,100,150],ticktext=["50","100","150"],
        ticks="inside",ticklen=5,tickwidth=1.5,tickcolor=ORANGE,showline=True,linecolor=ORANGE,linewidth=2,showgrid=False,zeroline=False,
        tickfont=dict(family=FONT,size=FS,color=ORANGE),ticklabelstandoff=4,
        minor=dict(tickmode="array",tickvals=[397],ticks="inside",ticklen=5,tickwidth=1.5,tickcolor=ORANGE,showgrid=False))
    layout[on]=dict(domain=dy(top,bottom),range=[0,0.5],overlaying="y%d"%n,side="left",anchor="x%d"%n,tickmode="array",tickvals=[0.2,0.4],ticktext=["0.2","0.4"],
        ticks="inside",ticklen=4,tickwidth=1.5,tickcolor=TICKBLUE,showline=True,linecolor="#222",linewidth=2,showgrid=False,zeroline=False,tickfont=tf,ticklabelstandoff=5)
    bx=[start+i*width for i in range(len(counts))]+ex
    fig.add_trace(go.Bar(x=bx,y=counts+ec,width=0.056,marker=dict(color="#E0561A",line=dict(width=0)),xaxis="x%d"%n,yaxis="y%d"%n))
    fig.add_trace(go.Scatter(x=cx,y=cy,mode="lines",line=dict(color="black",width=4.5,shape="spline",smoothing=0.6),cliponaxis=False,xaxis="x%d"%n,yaxis="y%d"%over))

dens_panel(4,8,388,752,curve_x_d,curve_y_d,bin_start_d,bin_width_d,counts_d,early_x_d,early_counts_d,-4)
dens_panel(6,10,811,1174,curve_x_f,curve_y_f,bin_start_f,bin_width_f,counts_f,early_x_f,early_counts_f,-5)

def note(x,y,text,size=FS,color="black",angle=0):
    return dict(x=x/W,y=1-y/H,xref="paper",yref="paper",text=text,showarrow=False,textangle=angle,xanchor="center",yanchor="middle",
                font=dict(family=FONT,size=size,color=color))
anns=[
 note(124,44,"a",39),note(716,52,"b",39),note(122,424,"c",39),note(700,415,"d",39),note(110,847,"e",39),note(695,840,"f",39),
 note(613,183,"Log<sub>10</sub>(R)",FS,angle=-90),note(1196,168,"Log<sub>10</sub>(k)",FS,angle=-90),
 note(22,552,"Magnitude",27,BLUE,-90),note(25,977,"Magnitude",27,BLUE,-90),
 note(598,592,"Earthquake Density",FS,angle=-90),note(600,1016,"Earthquake Density",FS,angle=-90),
 note(1187,627,"Earthquake Number",FS,ORANGE,-90),note(1188,1050,"Earthquake Number",FS,ORANGE,-90),
 note(54,394,"6",FS,BLUE),note(54,743,"2",FS,BLUE),note(54,818,"6",FS,BLUE),note(54,1161,"2",FS,BLUE),
 note(648,743,"0",FS),note(648,1163,"0",FS),note(1129,743,"0",FS,ORANGE),note(1129,1165,"0",FS,ORANGE),
 note(34,21,"38.2",FS),
]
layout["annotations"]=anns
fig.update_layout(**layout)
fig.write_html("out.html",post_script="document.body.style.margin='0';",config=dict(displayModeBar=False))
